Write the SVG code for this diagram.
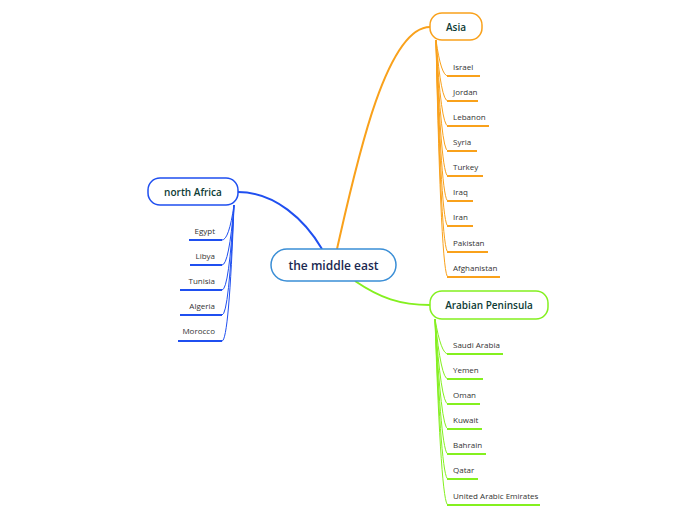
<svg xmlns="http://www.w3.org/2000/svg" width="696" height="520" viewBox="0 0 696 520">
<style>
.node{fill:#fff;stroke-width:1.5}
.lbl{font-family:"Open Sans","Noto Sans",sans-serif;font-weight:600;fill:#0d3b35;font-size:10px;text-anchor:middle}
.item{font-family:"Open Sans","Noto Sans",sans-serif;fill:#333;font-size:8px}
.o{stroke:#f9a11b;fill:none}
.b{stroke:#1f4ff0;fill:none}
.g{stroke:#84f01f;fill:none}
.thin{stroke-width:1}
.ul{stroke-width:2}
</style>
<rect width="696" height="520" fill="#fff"/>
<g id="connectors">
<path class="o" stroke-width="2" d="M337,249 C355,170 385,27 430,27"/>
<path class="b" stroke-width="2" d="M322,249 C305,220 275,192 238,192"/>
<path class="g" stroke-width="2" d="M355,281 C380,298 400,305 430,305"/>
<g class="o thin">
<path d="M436,40 Q441,76 448,76"/><path d="M436,40 Q441,101 448,101"/><path d="M436,40 Q441,126 448,126"/><path d="M436,40 Q441,151 448,151"/><path d="M436,40 Q441,176 448,176"/><path d="M436,40 Q441,201 448,201"/><path d="M436,40 Q441,226 448,226"/><path d="M436,40 Q441,252 448,252"/><path d="M436,40 Q441,277 448,277"/>
</g>
<g class="o ul">
<path d="M447,76 H480"/><path d="M447,101 H478"/><path d="M447,126 H489"/><path d="M447,151 H477"/><path d="M447,176 H483"/><path d="M447,201 H473"/><path d="M447,226 H473"/><path d="M447,252 H488"/><path d="M447,277 H500"/>
</g>
<g class="b thin">
<path d="M234,205 Q229,240 222,240"/><path d="M234,205 Q229,265 222,265"/><path d="M234,205 Q229,290 222,290"/><path d="M234,205 Q229,315 222,315"/><path d="M234,205 Q229,341 222,341"/>
</g>
<g class="b ul">
<path d="M189,240 H222"/><path d="M190,265 H222"/><path d="M180,290 H222"/><path d="M180,315 H222"/><path d="M178,341 H222"/>
</g>
<g class="g thin">
<path d="M435,319 Q441,354 448,354"/><path d="M435,319 Q441,379 448,379"/><path d="M435,319 Q441,404 448,404"/><path d="M435,319 Q441,429 448,429"/><path d="M435,319 Q441,454 448,454"/><path d="M435,319 Q441,479 448,479"/><path d="M435,319 Q441,505 448,505"/>
</g>
<g class="g ul">
<path d="M447,354 H503"/><path d="M447,379 H483"/><path d="M447,404 H480"/><path d="M447,429 H482"/><path d="M447,454 H486"/><path d="M447,479 H478"/><path d="M447,505 H540"/>
</g>
</g>
<g id="center">
<rect class="node" x="271" y="249" width="125" height="32" rx="16" stroke="#3a8ed6"/>
<text x="333.5" y="269.5" class="lbl" style="font-size:12px;fill:#1a2850">the middle east</text>
</g>
<g id="asia">
<rect class="node" x="430" y="13" width="52" height="27" rx="12" stroke="#f9a11b"/>
<text x="456" y="30.5" class="lbl">Asia</text>
</g>
<g id="north-africa">
<rect class="node" x="148" y="178" width="90" height="27" rx="12" stroke="#1f4ff0"/>
<text x="193" y="195.5" class="lbl">north Africa</text>
</g>
<g id="arabian-peninsula">
<rect class="node" x="430" y="291" width="118" height="28" rx="12" stroke="#84f01f"/>
<text x="489" y="308.5" class="lbl">Arabian Peninsula</text>
</g>
<g id="asia-items" class="item">
<text x="453" y="70">Israel</text>
<text x="453" y="95">Jordan</text>
<text x="453" y="120">Lebanon</text>
<text x="453" y="145">Syria</text>
<text x="453" y="170">Turkey</text>
<text x="453" y="195">Iraq</text>
<text x="453" y="220">Iran</text>
<text x="453" y="246">Pakistan</text>
<text x="453" y="271">Afghanistan</text>
</g>
<g id="africa-items" class="item" text-anchor="end">
<text x="215" y="234">Egypt</text>
<text x="215" y="259">Libya</text>
<text x="215" y="284">Tunisia</text>
<text x="215" y="309">Algeria</text>
<text x="215" y="334">Morocco</text>
</g>
<g id="arabia-items" class="item">
<text x="453" y="348">Saudi Arabia</text>
<text x="453" y="373">Yemen</text>
<text x="453" y="398">Oman</text>
<text x="453" y="423">Kuwait</text>
<text x="453" y="448">Bahrain</text>
<text x="453" y="473">Qatar</text>
<text x="453" y="499">United Arabic Emirates</text>
</g>
</svg>
